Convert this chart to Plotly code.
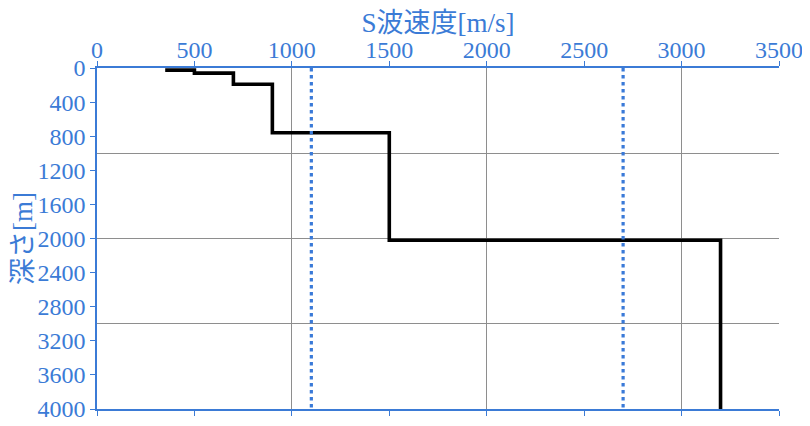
import plotly.graph_objects as go

# S-wave velocity profile (step vertices), velocity [m/s] and depth [m]
velocity = [350, 500, 700, 900, 1500, 3200]
depth = [25, 60, 190, 760, 2020, 4000]

# reference velocities (dotted vertical lines)
ref_velocity = [1100, 2700]
ref_depth = [0, 4000]

x_range = [0, 3500]
y_range = [4000, 0]

BLUE = "#3b7bd6"
GRID = "#8e8e8e"
FONT = "Liberation Serif, Noto Sans CJK JP, serif"

fig = go.Figure()

for v in ref_velocity:
    fig.add_trace(go.Scatter(
        x=[v, v], y=ref_depth, mode="lines",
        line=dict(color="#3a7ad8", width=3.2, dash="3.5px,3.5px"),
        xaxis="x2", yaxis="y2", showlegend=False, hoverinfo="skip"))

fig.add_trace(go.Scatter(
    x=velocity, y=depth, mode="lines", line_shape="hv",
    line=dict(color="black", width=3.6), showlegend=False))

# page body has an 8px margin, so the figure is sized/margined to compensate
fig.update_layout(
    width=802, height=418,
    margin=dict(l=89, r=31, t=60, b=17),
    paper_bgcolor="white", plot_bgcolor="white",
    font=dict(family=FONT, color=BLUE, size=24),
    xaxis=dict(
        side="top", range=x_range, dtick=500, showgrid=False, zeroline=False,
        showline=True, linecolor=BLUE, linewidth=1.5, mirror="ticks",
        ticks="outside", ticklen=5, tickcolor=BLUE, tickwidth=1, automargin=False,
        ticklabelstandoff=-6, ticklabeloverflow="allow",
        tickfont=dict(size=24, color=BLUE, family=FONT),
        title=dict(text="S波速度[m/s]", font=dict(size=27, color=BLUE, family=FONT), standoff=2),
    ),
    yaxis=dict(
        range=y_range, dtick=400, showgrid=False, zeroline=False,
        showline=True, linecolor=BLUE, linewidth=1.5, automargin=False,
        ticks="outside", ticklen=5, tickcolor=BLUE, tickwidth=1,
        ticklabeloverflow="allow",
        tickfont=dict(size=24, color=BLUE, family=FONT),
        title=dict(text="深さ[m]", font=dict(size=27, color=BLUE, family=FONT), standoff=1),
    ),
    xaxis2=dict(
        overlaying="x", range=x_range, dtick=1000, showgrid=True, gridcolor=GRID,
        gridwidth=1, zeroline=False, showticklabels=False, ticks="", showline=False,
    ),
    yaxis2=dict(
        overlaying="y", range=y_range, dtick=1000, showgrid=True, gridcolor=GRID,
        gridwidth=1, zeroline=False, showticklabels=False, ticks="", showline=False,
    ),
)

fig.write_html("out.html")
